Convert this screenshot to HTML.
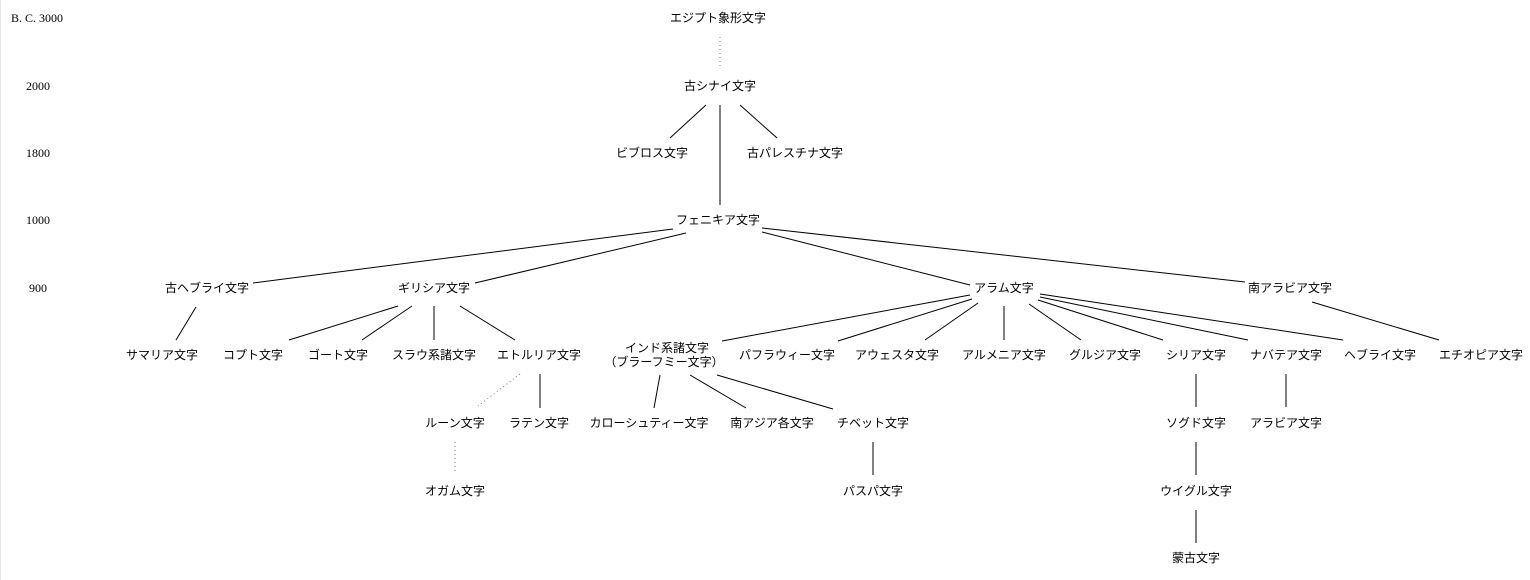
<!DOCTYPE html>
<html><head><meta charset="utf-8"><style>
html,body{margin:0;padding:0;background:#fff;}
svg{display:block;}
text{font-family:"Liberation Serif","Noto Sans CJK JP",serif;font-size:12px;fill:#000;}
.j{font-family:"Liberation Sans","Noto Sans CJK JP",sans-serif;font-size:12px;}
line{stroke:#000;stroke-width:1;}
.d{stroke:#777;stroke-dasharray:1,3;}
</style></head><body>
<svg width="1530" height="580" xmlns="http://www.w3.org/2000/svg">
<line x1="0.5" y1="0" x2="0.5" y2="580" style="stroke:#e6e6e6"/>
<g text-anchor="middle">
<text x="37" y="22">B. C. 3000</text>
<text x="38" y="90">2000</text>
<text x="38" y="157">1800</text>
<text x="38" y="224">1000</text>
<text x="38" y="292">900</text>
</g>
<g class="j" text-anchor="middle">
<text class="j" x="718" y="22">エジプト象形文字</text>
<text class="j" x="720" y="90">古シナイ文字</text>
<text class="j" x="652" y="157">ビブロス文字</text>
<text class="j" x="795" y="157">古パレスチナ文字</text>
<text class="j" x="718" y="224">フェニキア文字</text>
<text class="j" x="207" y="292">古ヘブライ文字</text>
<text class="j" x="434" y="292">ギリシア文字</text>
<text class="j" x="1004" y="292">アラム文字</text>
<text class="j" x="1290" y="292">南アラビア文字</text>
<text class="j" x="162" y="359">サマリア文字</text>
<text class="j" x="253" y="359">コプト文字</text>
<text class="j" x="338" y="359">ゴート文字</text>
<text class="j" x="434" y="359">スラウ系諸文字</text>
<text class="j" x="539" y="359">エトルリア文字</text>
<text class="j" x="667" y="352">インド系諸文字</text>
<text class="j" x="664" y="366">（ブラーフミー文字）</text>
<text class="j" x="787" y="359">パフラウィー文字</text>
<text class="j" x="897" y="359">アウェスタ文字</text>
<text class="j" x="1004" y="359">アルメニア文字</text>
<text class="j" x="1105" y="359">グルジア文字</text>
<text class="j" x="1196" y="359">シリア文字</text>
<text class="j" x="1286" y="359">ナバテア文字</text>
<text class="j" x="1380" y="359">ヘブライ文字</text>
<text class="j" x="1481" y="359">エチオピア文字</text>
<text class="j" x="455" y="427">ルーン文字</text>
<text class="j" x="539" y="427">ラテン文字</text>
<text class="j" x="649" y="427">カローシュティー文字</text>
<text class="j" x="772" y="427">南アジア各文字</text>
<text class="j" x="873" y="427">チベット文字</text>
<text class="j" x="1196" y="427">ソグド文字</text>
<text class="j" x="1286" y="427">アラビア文字</text>
<text class="j" x="455" y="495">オガム文字</text>
<text class="j" x="873" y="495">パスパ文字</text>
<text class="j" x="1196" y="495">ウイグル文字</text>
<text class="j" x="1196" y="562">蒙古文字</text>
</g>
<line class="d" x1="720" y1="37" x2="720" y2="68"/>
<line x1="706" y1="105" x2="670" y2="138"/>
<line x1="720" y1="105" x2="720" y2="205"/>
<line x1="740" y1="105" x2="777" y2="138"/>
<line x1="673" y1="229" x2="253" y2="283"/>
<line x1="686" y1="233" x2="475" y2="283"/>
<line x1="762" y1="232" x2="970" y2="285"/>
<line x1="762" y1="228" x2="1245" y2="282"/>
<line x1="196" y1="307" x2="176" y2="340"/>
<line x1="398" y1="306" x2="289" y2="340"/>
<line x1="412" y1="306" x2="362" y2="340"/>
<line x1="434" y1="306" x2="434" y2="340"/>
<line x1="460" y1="306" x2="515" y2="340"/>
<line class="d" x1="520" y1="374" x2="478" y2="406"/>
<line x1="540" y1="374" x2="540" y2="408"/>
<line class="d" x1="455" y1="442" x2="455" y2="472"/>
<line x1="660" y1="375" x2="654" y2="408"/>
<line x1="690" y1="375" x2="746" y2="408"/>
<line x1="717" y1="375" x2="833" y2="409"/>
<line x1="970" y1="295" x2="722" y2="341"/>
<line x1="972" y1="299" x2="838" y2="341"/>
<line x1="978" y1="303" x2="925" y2="340"/>
<line x1="1004" y1="306" x2="1004" y2="340"/>
<line x1="1029" y1="304" x2="1081" y2="340"/>
<line x1="1038" y1="300" x2="1163" y2="340"/>
<line x1="1040" y1="297" x2="1248" y2="340"/>
<line x1="1040" y1="294" x2="1343" y2="340"/>
<line x1="1312" y1="302" x2="1439" y2="340"/>
<line x1="873" y1="442" x2="873" y2="475"/>
<line x1="1196" y1="374" x2="1196" y2="407"/>
<line x1="1196" y1="442" x2="1196" y2="475"/>
<line x1="1196" y1="510" x2="1196" y2="543"/>
<line x1="1286" y1="374" x2="1286" y2="407"/>
</svg>
</body></html>
